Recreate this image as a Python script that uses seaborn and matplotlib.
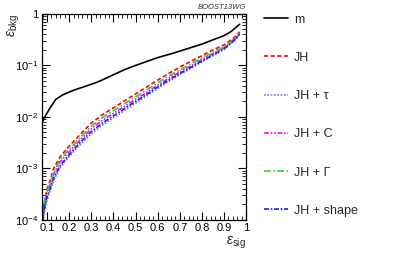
import matplotlib
matplotlib.use("Agg")
import matplotlib.pyplot as plt
import matplotlib.ticker as mticker
import seaborn as sns
import numpy as np

# ---- data ----
x_m = [0.077, 0.09, 0.114, 0.14, 0.172, 0.22, 0.30, 0.34, 0.40, 0.45, 0.50, 0.60, 0.67, 0.70, 0.80, 0.90, 0.93, 0.97]
eff_m = [0.0076, 0.010, 0.015, 0.022, 0.027, 0.033, 0.043, 0.050, 0.066, 0.083, 0.100, 0.142, 0.173, 0.19, 0.26, 0.38, 0.45, 0.63]

x_jh = [0.08, 0.09, 0.10, 0.115, 0.13, 0.16, 0.20, 0.25, 0.30, 0.35, 0.40, 0.45, 0.50,
        0.55, 0.60, 0.65, 0.70, 0.75, 0.80, 0.85, 0.90, 0.95, 0.97]
eff_jh = [1.2e-4, 2.5e-4, 4.0e-4, 6.0e-4, 1.0e-3, 1.7e-3, 2.7e-3, 4.6e-3, 7.6e-3, 1.1e-2, 1.5e-2, 2.05e-2, 2.8e-2,
          3.8e-2, 5.2e-2, 7.0e-2, 9.3e-2, 0.12, 0.155, 0.20, 0.25, 0.36, 0.45]
eff_jh_gamma = [1.1e-4, 2.3e-4, 3.6e-4, 5.4e-4, 8.8e-4, 1.5e-3, 2.35e-3, 4.0e-3, 6.6e-3, 9.6e-3, 1.32e-2, 1.8e-2, 2.45e-2,
                3.35e-2, 4.6e-2, 6.2e-2, 8.2e-2, 0.107, 0.14, 0.18, 0.23, 0.34, 0.43]
eff_jh_c = [1.3e-4, 2.4e-4, 3.4e-4, 5.0e-4, 7.8e-4, 1.35e-3, 2.1e-3, 3.6e-3, 5.9e-3, 8.6e-3, 1.18e-2, 1.6e-2, 2.2e-2,
            3.0e-2, 4.15e-2, 5.6e-2, 7.5e-2, 0.098, 0.13, 0.17, 0.22, 0.33, 0.42]
eff_jh_shape = [1.0e-4, 1.8e-4, 2.8e-4, 4.2e-4, 6.5e-4, 1.15e-3, 1.85e-3, 3.2e-3, 5.2e-3, 7.6e-3, 1.05e-2, 1.45e-2, 2.0e-2,
                2.75e-2, 3.8e-2, 5.2e-2, 7.0e-2, 0.092, 0.122, 0.16, 0.21, 0.32, 0.41]
eff_jh_tau = [0.8e-4, 1.5e-4, 2.4e-4, 3.7e-4, 5.8e-4, 1.05e-3, 1.7e-3, 2.9e-3, 4.7e-3, 6.9e-3, 9.6e-3, 1.33e-2, 1.85e-2,
              2.55e-2, 3.55e-2, 4.9e-2, 6.6e-2, 0.088, 0.118, 0.155, 0.205, 0.31, 0.40]

labels = ["m", "JH", "JH + τ", "JH + C", "JH + Γ", "JH + shape"]
x_ticks = [0.1, 0.2, 0.3, 0.4, 0.5, 0.6, 0.7, 0.8, 0.9, 1.0]
x_tick_labels = ["0.1", "0.2", "0.3", "0.4", "0.5", "0.6", "0.7", "0.8", "0.9", "1"]
y_ticks = [1e-4, 1e-3, 1e-2, 1e-1, 1]
y_tick_labels = [r"$10^{-4}$", r"$10^{-3}$", r"$10^{-2}$", r"$10^{-1}$", "1"]

# ---- style ----
sns.set_theme(style="ticks")
plt.rcParams["font.family"] = ["Liberation Sans", "DejaVu Sans"]
plt.rcParams["mathtext.fontset"] = "custom"
plt.rcParams["mathtext.rm"] = "Liberation Sans"
plt.rcParams["mathtext.it"] = "Liberation Sans:italic"
plt.rcParams["mathtext.bf"] = "Liberation Sans:bold"

fig = plt.figure(figsize=(3.99, 2.54), dpi=100)
ax = fig.add_axes([0.105, 0.134, 0.512, 0.811])

series = [
    (x_m, eff_m, "black", "-"),
    (x_jh, eff_jh, "#ff0000", (0, (2.5, 1.5))),
    (x_jh, eff_jh_tau, "#7070ff", (0, (1, 1))),
    (x_jh, eff_jh_c, "#ff00ff", (0, (3, 1, 1, 1, 1, 1))),
    (x_jh, eff_jh_gamma, "#33cc33", (0, (4, 1.5, 1, 1.5))),
    (x_jh, eff_jh_shape, "#2020dd", (0, (3, 1, 1, 1))),
]
for (xs, ys, c, ls), lab in zip(series, labels):
    sns.lineplot(x=xs, y=ys, color=c, linestyle=ls, linewidth=1.2, label=lab, ax=ax, sort=False)

ax.set_yscale("log")
ax.set_xlim(0.077, 1.0)
ax.set_ylim(1e-4, 1)

ax.xaxis.set_major_locator(mticker.FixedLocator(x_ticks))
ax.xaxis.set_major_formatter(mticker.FixedFormatter(x_tick_labels))
ax.xaxis.set_minor_locator(mticker.MultipleLocator(0.02))
ax.yaxis.set_major_locator(mticker.FixedLocator(y_ticks))
ax.yaxis.set_major_formatter(mticker.FixedFormatter(y_tick_labels))
ax.yaxis.set_minor_locator(mticker.LogLocator(base=10, subs=np.arange(2, 10)))
ax.yaxis.set_minor_formatter(mticker.NullFormatter())

ax.tick_params(which="both", direction="in", top=True, right=True, labelsize=8, colors="black", pad=2.5)
ax.tick_params(which="major", length=6, width=0.8)
ax.tick_params(which="minor", length=3, width=0.6)
for s in ax.spines.values():
    s.set_linewidth(0.9)
    s.set_color("black")

ax.set_xlabel(r"$\varepsilon_{\rm sig}$", loc="right", fontsize=10, labelpad=1)
ax.set_ylabel(r"$\varepsilon_{\rm bkg}$", fontsize=10)
ax.yaxis.set_label_coords(-0.135, 1.0)
ax.yaxis.label.set_verticalalignment("center")
ax.yaxis.label.set_horizontalalignment("right")

fig.text(0.617, 0.972, "BOOST13WG", ha="right", va="center", fontsize=5.5, style="italic", color="#333333")

leg = ax.legend(loc="upper left", bbox_to_anchor=(1.064, 1.026), frameon=False, fontsize=9,
                handlelength=1.92, handletextpad=0.48, labelspacing=2.1, borderaxespad=0)

fig.savefig("out.png", dpi=100)
